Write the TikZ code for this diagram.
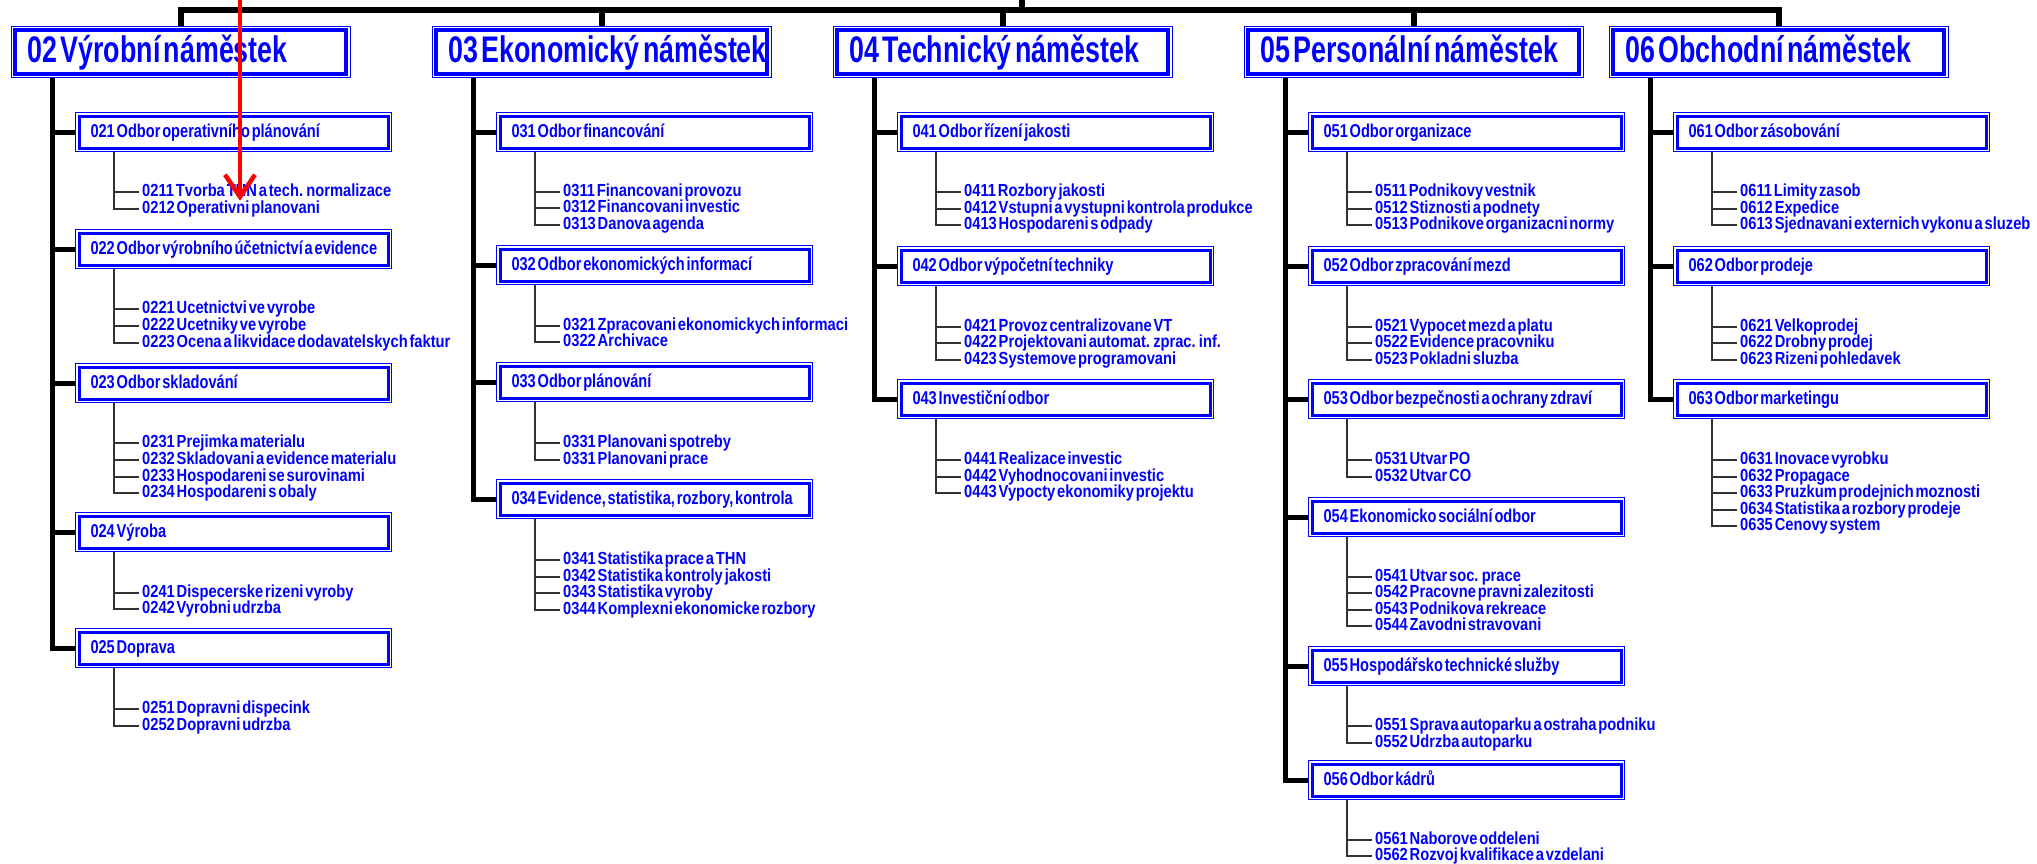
\documentclass[tikz,border=0pt]{standalone}
\usepackage{fontspec}
\setmainfont{Liberation Sans}
\newfontfamily\headfont[FakeStretch=0.725]{Liberation Sans}
\newfontfamily\unitfont[FakeStretch=0.785]{Liberation Sans}
\newfontfamily\leaffont[FakeStretch=0.84]{Liberation Sans}
\newcommand\tightsp{\spaceskip=.45\fontdimen2\font\relax}
\usetikzlibrary{arrows.meta}
\tikzset{
  headbox/.style={draw=blue, line width=1pt, anchor=north west, minimum height=51pt,
    text width=307pt, inner xsep=16pt, inner ysep=0pt, align=left, text=blue,
    text height=27pt, text depth=7pt, font=\headfont\bfseries\fontsize{37}{40}\selectfont},
  unitbox/.style={draw=blue, line width=1pt, anchor=north west, minimum height=39pt,
    text width=286pt, inner xsep=15pt, inner ysep=0pt, align=left, text=blue,
    text height=14pt, text depth=4pt, font=\unitfont\bfseries\fontsize{18.6}{20}\selectfont},
  leaf/.style={anchor=west, inner xsep=3pt, inner ysep=1pt, text=blue,
    text height=12pt, text depth=3pt, font=\leaffont\bfseries\fontsize{17.5}{18}\selectfont},
  frame/.style={draw=blue, line width=3pt},
  bar/.style={line width=6pt},
  spine/.style={line width=5pt},
  twig/.style={line width=1.8pt, black!80},
}
\begin{document}
\begin{tikzpicture}[x=1pt,y=-1pt]
  \fill[white] (0,0) rectangle (2037,863);
  \useasboundingbox (0,0) rectangle (2037,863);

  % heads and top bus
  \foreach \hd/\hx/\lab in {02/11/{Výrobní náměstek},03/432/{Ekonomický náměstek},04/833/{Technický náměstek},05/1244/{Personální náměstek},06/1609/{Obchodní náměstek}} {
    \node[headbox] (h\hd) at (\hx,26) {\mbox{\tightsp\hd\ \lab}};
    \draw[frame,line width=3.5pt] ([shift={(4,4)}]h\hd.north west) rectangle ([shift={(-5,-4)}]h\hd.south east);
    \coordinate (s\hd) at ([xshift=41pt]h\hd.south west);
  }
  \coordinate (bus) at (1022,10);
  \coordinate (root) at (1022,-8);
  \draw[bar] (bus) -- (root);
  \foreach \hd in {02,03,04,05,06}
    \draw[bar] (bus) -| (h\hd.north);

  % 02
  \foreach \un/\ty/\lab in {021/112/{Odbor operativního plánování},022/229/{Odbor výrobního účetnictví a evidence},023/363/{Odbor skladování},024/512/{Výroba},025/628/{Doprava}} {
    \node[unitbox] (u\un) at (75,\ty) {\mbox{\tightsp\un\ \lab}};
    \draw[frame] ([shift={(4,4)}]u\un.north west) rectangle ([shift={(-4,-4)}]u\un.south east);
    \draw[spine] (s02) |- (u\un.west);
  }
  \foreach \un/\lf/\ty/\lab in {021/0211/192/{0211 Tvorba THN a tech. normalizace},021/0212/209/{0212 Operativni planovani},
      022/0221/309/{0221 Ucetnictvi ve vyrobe},022/0222/326/{0222 Ucetniky ve vyrobe},022/0223/343/{0223 Ocena a likvidace dodavatelskych faktur},
      023/0231/443/{0231 Prejimka materialu},023/0232/460/{0232 Skladovani a evidence materialu},023/0233/477/{0233 Hospodareni se surovinami},023/0234/493/{0234 Hospodareni s obaly},
      024/0241/593/{0241 Dispecerske rizeni vyroby},024/0242/609/{0242 Vyrobni udrzba},
      025/0251/709/{0251 Dopravni dispecink},025/0252/726/{0252 Dopravni udrzba}} {
    \node[leaf] (l\lf) at (139,\ty) {\mbox{\tightsp\lab}};
    \draw[twig] ([xshift=39pt]u\un.south west) |- (l\lf.west);
  }

  % 03
  \foreach \un/\ty/\lab in {031/112/{Odbor financování},032/245/{Odbor ekonomických informací},033/362/{Odbor plánování},034/479/{Evidence, statistika, rozbory, kontrola}} {
    \node[unitbox] (u\un) at (496,\ty) {\mbox{\tightsp\un\ \lab}};
    \draw[frame] ([shift={(4,4)}]u\un.north west) rectangle ([shift={(-4,-4)}]u\un.south east);
    \draw[spine] (s03) |- (u\un.west);
  }
  \foreach \un/\lf/\ty/\lab in {031/0311/192/{0311 Financovani provozu},031/0312/208/{0312 Financovani investic},031/0313/225/{0313 Danova agenda},
      032/0321/326/{0321 Zpracovani ekonomickych informaci},032/0322/342/{0322 Archivace},
      033/0331/443/{0331 Planovani spotreby},033/0332/460/{0331 Planovani prace},
      034/0341/560/{0341 Statistika prace a THN},034/0342/577/{0342 Statistika kontroly jakosti},034/0343/593/{0343 Statistika vyroby},034/0344/610/{0344 Komplexni ekonomicke rozbory}} {
    \node[leaf] (l\lf) at (560,\ty) {\mbox{\tightsp\lab}};
    \draw[twig] ([xshift=39pt]u\un.south west) |- (l\lf.west);
  }

  % 04
  \foreach \un/\ty/\lab in {041/112/{Odbor řízení jakosti},042/246/{Odbor výpočetní techniky},043/379/{Investiční odbor}} {
    \node[unitbox] (u\un) at (897,\ty) {\mbox{\tightsp\un\ \lab}};
    \draw[frame] ([shift={(4,4)}]u\un.north west) rectangle ([shift={(-4,-4)}]u\un.south east);
    \draw[spine] (s04) |- (u\un.west);
  }
  \foreach \un/\lf/\ty/\lab in {041/0411/192/{0411 Rozbory jakosti},041/0412/209/{0412 Vstupni a vystupni kontrola produkce},041/0413/225/{0413 Hospodareni s odpady},
      042/0421/327/{0421 Provoz centralizovane VT},042/0422/343/{0422 Projektovani automat. zprac. inf.},042/0423/360/{0423 Systemove programovani},
      043/0431/460/{0441 Realizace investic},043/0432/477/{0442 Vyhodnocovani investic},043/0433/493/{0443 Vypocty ekonomiky projektu}} {
    \node[leaf] (l\lf) at (961,\ty) {\mbox{\tightsp\lab}};
    \draw[twig] ([xshift=39pt]u\un.south west) |- (l\lf.west);
  }

  % 05
  \foreach \un/\ty/\lab in {051/112/{Odbor organizace},052/246/{Odbor zpracování mezd},053/379/{Odbor bezpečnosti a ochrany zdraví},054/497/{Ekonomicko sociální odbor},055/646/{Hospodářsko technické služby},056/760/{Odbor kádrů}} {
    \node[unitbox] (u\un) at (1308,\ty) {\mbox{\tightsp\un\ \lab}};
    \draw[frame] ([shift={(4,4)}]u\un.north west) rectangle ([shift={(-4,-4)}]u\un.south east);
    \draw[spine] (s05) |- (u\un.west);
  }
  \foreach \un/\lf/\ty/\lab in {051/0511/192/{0511 Podnikovy vestnik},051/0512/209/{0512 Stiznosti a podnety},051/0513/225/{0513 Podnikove organizacni normy},
      052/0521/327/{0521 Vypocet mezd a platu},052/0522/343/{0522 Evidence pracovniku},052/0523/360/{0523 Pokladni sluzba},
      053/0531/460/{0531 Utvar PO},053/0532/477/{0532 Utvar CO},
      054/0541/577/{0541 Utvar soc. prace},054/0542/593/{0542 Pracovne pravni zalezitosti},054/0543/610/{0543 Podnikova rekreace},054/0544/626/{0544 Zavodni stravovani},
      055/0551/726/{0551 Sprava autoparku a ostraha podniku},055/0552/743/{0552 Udrzba autoparku},
      056/0561/840/{0561 Naborove oddeleni},056/0562/856/{0562 Rozvoj kvalifikace a vzdelani}} {
    \node[leaf] (l\lf) at (1372,\ty) {\mbox{\tightsp\lab}};
    \draw[twig] ([xshift=39pt]u\un.south west) |- (l\lf.west);
  }

  % 06
  \foreach \un/\ty/\lab in {061/112/{Odbor zásobování},062/246/{Odbor prodeje},063/379/{Odbor marketingu}} {
    \node[unitbox] (u\un) at (1673,\ty) {\mbox{\tightsp\un\ \lab}};
    \draw[frame] ([shift={(4,4)}]u\un.north west) rectangle ([shift={(-4,-4)}]u\un.south east);
    \draw[spine] (s06) |- (u\un.west);
  }
  \foreach \un/\lf/\ty/\lab in {061/0611/192/{0611 Limity zasob},061/0612/209/{0612 Expedice},061/0613/225/{0613 Sjednavani externich vykonu a sluzeb},
      062/0621/327/{0621 Velkoprodej},062/0622/343/{0622 Drobny prodej},062/0623/360/{0623 Rizeni pohledavek},
      063/0631/460/{0631 Inovace vyrobku},063/0632/477/{0632 Propagace},063/0633/493/{0633 Pruzkum prodejnich moznosti},063/0634/510/{0634 Statistika a rozbory prodeje},063/0635/526/{0635 Cenovy system}} {
    \node[leaf] (l\lf) at (1737,\ty) {\mbox{\tightsp\lab}};
    \draw[twig] ([xshift=39pt]u\un.south west) |- (l\lf.west);
  }

  % red marker
  \coordinate (mark) at (240,-8);
  \draw[red, line width=4.5pt, -{Straight Barb[length=22pt,width=30pt]}] (mark) -- (mark |- l0211.south);
\end{tikzpicture}
\end{document}
